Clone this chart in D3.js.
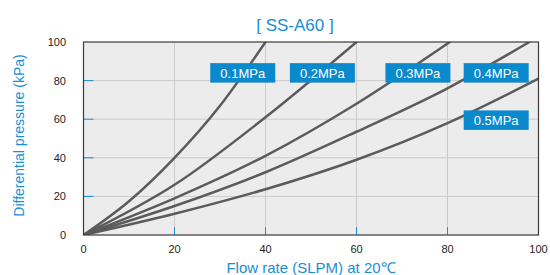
<!DOCTYPE html>
<html>
<head>
<meta charset="utf-8">
<script src="https://cdn.jsdelivr.net/npm/d3@7"></script>
<style>
  body { margin: 0; background: #fff; }
  text { font-family: "Liberation Sans", Arial, sans-serif; }
</style>
</head>
<body>
<div id="chart"></div>
<script>
// data
var xTicks = [0, 20, 40, 60, 80, 100];
var yTicks = [0, 20, 40, 60, 80, 100];

var pressures = ["0.1MPa", "0.2MPa", "0.3MPa", "0.4MPa", "0.5MPa"];
var flow01 = [0, 10, 20, 30, 40];
var dp01   = [0, 17.5, 40, 67, 100];
var flow02 = [0, 20, 40, 60];
var dp02   = [0, 26, 61, 100];
var flow03 = [0, 20, 40, 60, 80.5];
var dp03   = [0, 19, 41, 68, 100];
var flow04 = [0, 20, 40, 60, 80, 98];
var dp04   = [0, 15, 32.5, 53.5, 76, 100];
var flow05 = [0, 20, 40, 60, 80, 100];
var dp05   = [0, 11, 23.7, 39, 58, 81];

// label anchors (data units, box centre)
var labelX = [35, 52.5, 73.5, 90.7, 90.7];
var labelY = [84, 84, 84, 84, 59.5];

var width = 550, height = 275;
var margin = {top: 42, right: 11.5, bottom: 40, left: 83.5};
var blue = "#1b8ed3";

var x = d3.scaleLinear().domain([0, 100]).range([margin.left, width - margin.right]);
var y = d3.scaleLinear().domain([0, 100]).range([height - margin.bottom, margin.top]);

var svg = d3.select("#chart").append("svg")
  .attr("width", width)
  .attr("height", height);

//plot background
svg.append("rect")
  .attr("x", x(0)).attr("y", y(100))
  .attr("width", x(100) - x(0)).attr("height", y(0) - y(100))
  .attr("fill", "#ececec");

//grid lines
svg.append("g").selectAll("line")
  .data(xTicks.slice(1, -1))
  .enter().append("line")
  .attr("x1", d => x(d)).attr("x2", d => x(d))
  .attr("y1", y(0)).attr("y2", y(100))
  .attr("stroke", "#cbcbcb").attr("stroke-width", 1);
svg.append("g").selectAll("line")
  .data(yTicks.slice(1, -1))
  .enter().append("line")
  .attr("y1", d => y(d)).attr("y2", d => y(d))
  .attr("x1", x(0)).attr("x2", x(100))
  .attr("stroke", "#cbcbcb").attr("stroke-width", 1);

//blue inner ticks
svg.append("g").selectAll("line")
  .data(xTicks.slice(1, -1))
  .enter().append("line")
  .attr("x1", d => x(d)).attr("x2", d => x(d))
  .attr("y1", y(0)).attr("y2", y(0) - 8)
  .attr("stroke", "#1b8ed3").attr("stroke-width", 1);
svg.append("g").selectAll("line")
  .data(yTicks.slice(1, -1))
  .enter().append("line")
  .attr("y1", d => y(d)).attr("y2", d => y(d))
  .attr("x1", x(0)).attr("x2", x(0) + 10)
  .attr("stroke", "#1b8ed3").attr("stroke-width", 1);

//curves
var series = [
  {flow: flow01, dp: dp01},
  {flow: flow02, dp: dp02},
  {flow: flow03, dp: dp03},
  {flow: flow04, dp: dp04},
  {flow: flow05, dp: dp05}
];
var line = d3.line()
  .x(d => x(d[0]))
  .y(d => y(d[1]))
  .curve(d3.curveMonotoneX);

svg.append("clipPath").attr("id", "plotclip")
  .append("rect")
  .attr("x", x(0)).attr("y", y(100))
  .attr("width", x(100) - x(0)).attr("height", y(0) - y(100));

svg.append("g")
  .attr("clip-path", "url(#plotclip)")
  .selectAll("path")
  .data(series)
  .enter().append("path")
  .attr("d", s => line(s.flow.map((f, i) => [f, s.dp[i]])))
  .attr("fill", "none")
  .attr("stroke", "#5b5b5b")
  .attr("stroke-width", 2.5)
  .attr("stroke-linecap", "round");

//frame
svg.append("rect")
  .attr("x", x(0)).attr("y", y(100))
  .attr("width", x(100) - x(0)).attr("height", y(0) - y(100))
  .attr("fill", "none")
  .attr("stroke", "#3a3a3a").attr("stroke-width", 1.2);

//pressure labels
var lab = svg.append("g").selectAll("g")
  .data(pressures)
  .enter().append("g")
  .attr("transform", (d, i) => "translate(" + x(labelX[i]) + "," + y(labelY[i]) + ")");
lab.append("rect")
  .attr("x", -32.5).attr("y", -9.75)
  .attr("width", 65).attr("height", 19.5)
  .attr("fill", "#0a89cc");
lab.append("text")
  .attr("text-anchor", "middle")
  .attr("y", 4.7)
  .attr("fill", "#fff")
  .attr("font-size", 13)
  .text(d => d);

//tick labels
svg.append("g").selectAll("text")
  .data(xTicks)
  .enter().append("text")
  .attr("x", d => x(d)).attr("y", y(0) + 17.5)
  .attr("text-anchor", "middle")
  .attr("font-size", 11)
  .attr("fill", "#222")
  .text(d => d);
svg.append("g").selectAll("text")
  .data(yTicks)
  .enter().append("text")
  .attr("x", 66).attr("y", d => y(d) + 4)
  .attr("text-anchor", "end")
  .attr("font-size", 11)
  .attr("fill", "#222")
  .text(d => d);

//titles
svg.append("text")
  .attr("x", 295).attr("y", 31)
  .attr("text-anchor", "middle")
  .attr("font-size", 17)
  .attr("fill", blue)
  .text("[ SS-A60 ]");

svg.append("text")
  .attr("x", (x(0) + x(100)) / 2).attr("y", 273)
  .attr("text-anchor", "middle")
  .attr("font-size", 15)
  .attr("fill", blue)
  .text("Flow rate (SLPM) at 20℃");

svg.append("text")
  .attr("transform", "translate(24," + (y(50) - 3) + ") rotate(-90)")
  .attr("text-anchor", "middle")
  .attr("font-size", 14)
  .attr("fill", blue)
  .text("Differential pressure (kPa)");
</script>
</body>
</html>
